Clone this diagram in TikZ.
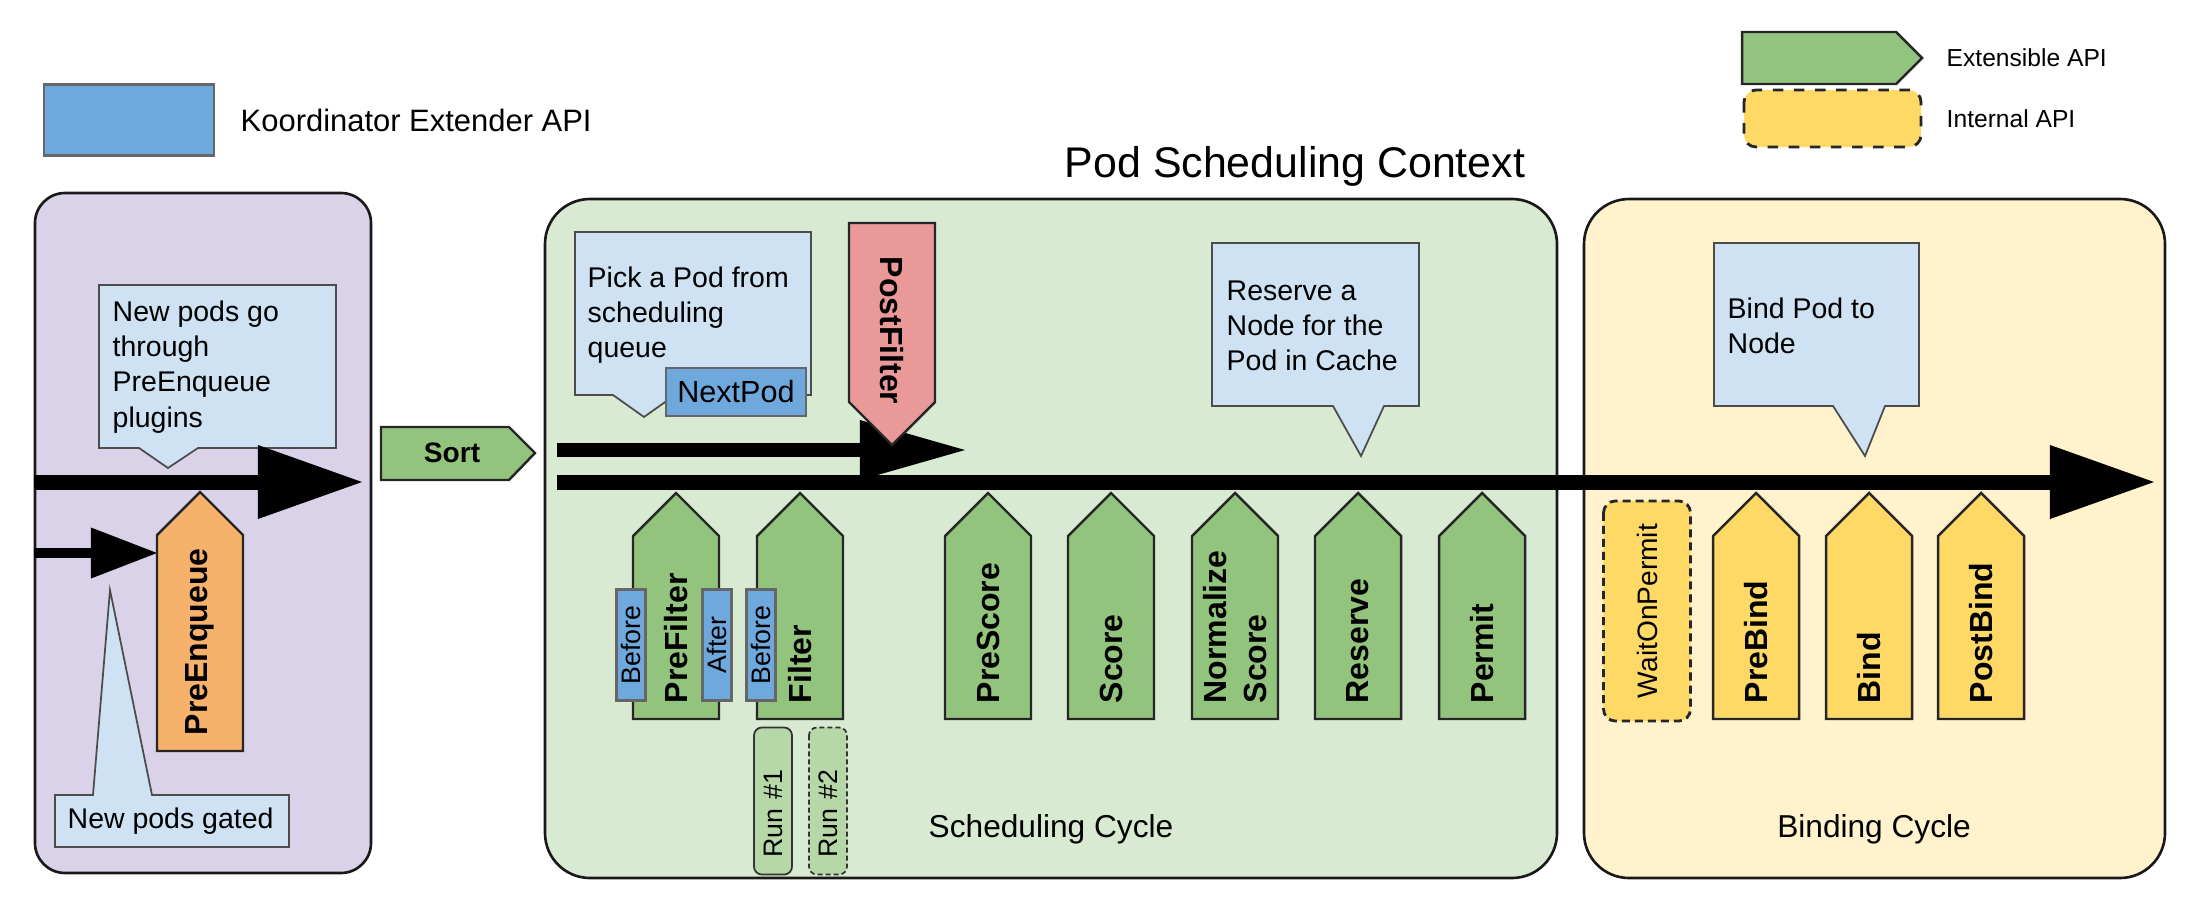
\documentclass[tikz,border=0pt]{standalone}
\usepackage{fontspec}
\setmainfont{Liberation Sans}
\usetikzlibrary{arrows.meta}

\begin{document}
\begin{tikzpicture}[x=0.01cm,y=-0.01cm,
        fondo/.style={draw=black!90,line width=0.75pt,rounded corners=0.45cm},
        plug/.style={draw=black!85,line width=0.7pt},
        etiq/.style={font=\bfseries\fontsize{9.1}{11.4}\selectfont,inner sep=0pt,anchor=west,align=left},
        nota/.style={draw=black!70,fill=azulclaro,line width=0.5pt},
        notatxt/.style={font=\fontsize{8.1}{10}\selectfont,inner sep=0pt,anchor=west,align=left},
        ext/.style={draw=black!60,fill=azul,line width=0.6pt,inner sep=0pt,font=\fontsize{7.6}{9}\selectfont},
        corrida/.style={draw=black!80,fill=verdeclaro,rounded corners=0.08cm,line width=0.5pt,inner xsep=0.17cm,inner ysep=0pt,
            rotate=90,text width=1.13cm,align=left,minimum width=1.47cm,minimum height=0.38cm,font=\fontsize{7.6}{9}\selectfont},
        flujo/.style={line width=0.15cm,-{Triangle[length=1.04cm,width=0.74cm,line width=0pt]}},
        ciclo/.style={font=\fontsize{9}{11}\selectfont,inner sep=0pt}]
    %colores
    \definecolor{lila}{HTML}{D9D2E9}
    \definecolor{verdefondo}{HTML}{D9EAD3}
    \definecolor{amarillofondo}{HTML}{FFF2CC}
    \definecolor{verde}{HTML}{93C47D}
    \definecolor{verdeclaro}{HTML}{B6D7A8}
    \definecolor{naranja}{HTML}{F6B26B}
    \definecolor{rojo}{HTML}{EA9999}
    \definecolor{amarillo}{HTML}{FFD966}
    \definecolor{azul}{HTML}{6FA8DC}
    \definecolor{azulclaro}{HTML}{CFE2F3}

    \useasboundingbox (0,0) rectangle (2200,906);

    % Leyenda
    \node[ext,minimum width=1.70cm,minimum height=0.71cm] (ley ext) at (129,120) {};
    \node[anchor=west,inner sep=0pt,font=\fontsize{8.8}{10}\selectfont] (ley ext txt) at (240,120) {Koordinator Extender API};
    \draw[plug,fill=verde] (1742,32) -- (1896,32) -- (1922,58) -- (1896,84) -- (1742,84) -- cycle;
    \node[anchor=west,inner sep=0pt,font=\fontsize{7}{8}\selectfont] (ley extensible) at (1946,58) {Extensible API};
    \draw[plug,fill=amarillo,dashed,line width=0.8pt,rounded corners=0.12cm] (1744,90) rectangle (1921,147);
    \node[anchor=west,inner sep=0pt,font=\fontsize{7}{8}\selectfont] (ley interna) at (1946,119) {Internal API};

    % Titulo
    \node[font=\fontsize{12.2}{14}\selectfont,inner sep=0pt] (titulo) at (1295,166) {Pod Scheduling Context};

    % Cajas de fondo
    \draw[fondo,fill=lila,rounded corners=0.3cm] (35,193) rectangle (371,873);
    \draw[fondo,fill=verdefondo] (545,199) rectangle (1557,878);
    \draw[fondo,fill=amarillofondo] (1584,199) rectangle (2165,878);
    \node[ciclo] (ciclo sched) at (1051,829) {Scheduling Cycle};
    \node[ciclo] (ciclo bind) at (1874,829) {Binding Cycle};

    % Notas
    \draw[nota] (99,285) -- (336,285) -- (336,448) -- (198,448) -- (168,468) -- (139,448) -- (99,448) -- cycle;
    \node[notatxt] (nota cola) at (112,367) {New pods go\\through\\PreEnqueue\\plugins};
    \draw[nota] (55,795) -- (93,795) -- (110,590) -- (152,795) -- (289,795) -- (289,847) -- (55,847) -- cycle;
    \node[notatxt] (nota gated) at (67,821) {New pods gated};
    \draw[nota] (575,232) -- (811,232) -- (811,395) -- (675,395) -- (644,417) -- (613,395) -- (575,395) -- cycle;
    \node[notatxt] (nota pick) at (587,315) {Pick a Pod from\\scheduling\\queue};
    \draw[nota] (1212,243) -- (1419,243) -- (1419,406) -- (1384,406) -- (1361,456) -- (1333,406) -- (1212,406) -- cycle;
    \node[notatxt] (nota reserve) at (1226,326) {Reserve a\\Node for the\\Pod in Cache};
    \draw[nota] (1714,243) -- (1919,243) -- (1919,406) -- (1885,406) -- (1865,456) -- (1833,406) -- (1714,406) -- cycle;
    \node[notatxt] (nota bind) at (1727,326) {Bind Pod to\\Node};
    \node[ext,minimum width=1.40cm,minimum height=0.48cm,font=\fontsize{8.7}{10}\selectfont] (next pod) at (736,392) {NextPod};

    % Flechas
    \coordinate (cola in) at (34,482);
    \coordinate (cola out) at (362,482);
    \coordinate (gate in) at (34,553);
    \coordinate (gate out) at (157,553);
    \coordinate (ctx in) at (557,482);
    \coordinate (ctx out) at (2154,482);
    \coordinate (pick in) at (557,450);
    \coordinate (pick out) at (965,450);
    \draw[flujo] (cola in) -- (cola out);
    \draw[line width=0.10cm,-{Triangle[length=0.66cm,width=0.51cm,line width=0pt]}] (gate in) -- (gate out);
    \draw[line width=0.14cm,-{Triangle[length=1.05cm,width=0.60cm,line width=0pt]}] (pick in) -- (pick out);
    \draw[flujo] (ctx in) -- (ctx out);

    % Sort
    \draw[plug,fill=verde] (381,427) -- (509,427) -- (535,453) -- (509,480) -- (381,480) -- cycle;
    \node[font=\bfseries\fontsize{8}{10}\selectfont,inner sep=0pt] (sort) at (452,453) {Sort};

    % PreEnqueue
    \draw[plug,fill=naranja] (157,751) -- (157,535) -- (200,492) -- (243,535) -- (243,751) -- cycle;
    \node[etiq,rotate=90] (pre enqueue) at (200,736) {PreEnqueue};

    % Plugins del ciclo
    \foreach \x/\nombre in {676/PreFilter,800/Filter,988/PreScore,1111/Score,1235/{Normalize\\Score},1358/Reserve,1482/Permit}{
        \draw[plug,fill=verde] (\x-43,719) -- (\x-43,536) -- (\x,493) -- (\x+43,536) -- (\x+43,719) -- cycle;
        \node[etiq,rotate=90] (p\x) at (\x,704) {\nombre};
    }
    \foreach \x/\nombre in {1756/PreBind,1869/Bind,1981/PostBind}{
        \draw[plug,fill=amarillo] (\x-43,719) -- (\x-43,536) -- (\x,493) -- (\x+43,536) -- (\x+43,719) -- cycle;
        \node[etiq,rotate=90] (p\x) at (\x,704) {\nombre};
    }

    % PostFilter
    \draw[plug,fill=rojo] (849,223) -- (935,223) -- (935,402) -- (892,445) -- (849,402) -- cycle;
    \node[etiq,rotate=-90] (post filter) at (892,256) {PostFilter};

    % Extensiones
    \node[ext,rotate=90,minimum width=1.11cm,minimum height=0.29cm] (pf before) at (631,645) {Before};
    \node[ext,rotate=90,minimum width=1.11cm,minimum height=0.29cm] (pf after) at (717,645) {After};
    \node[ext,rotate=90,minimum width=1.11cm,minimum height=0.29cm] (f before) at (761,645) {Before};
    \node[corrida] (run uno) at (773,801) {Run \#1};
    \node[corrida,dash pattern=on 0.05cm off 0.03cm] (run dos) at (828,801) {Run \#2};

    % WaitOnPermit
    \node[draw=black!85,fill=amarillo,dash pattern=on 0.08cm off 0.05cm,line width=0.8pt,rounded corners=0.12cm,
        rotate=90,minimum width=2.20cm,minimum height=0.87cm,inner sep=0pt,font=\fontsize{8}{10}\selectfont] (wait permit) at (1647,611) {WaitOnPermit};
\end{tikzpicture}
\end{document}
